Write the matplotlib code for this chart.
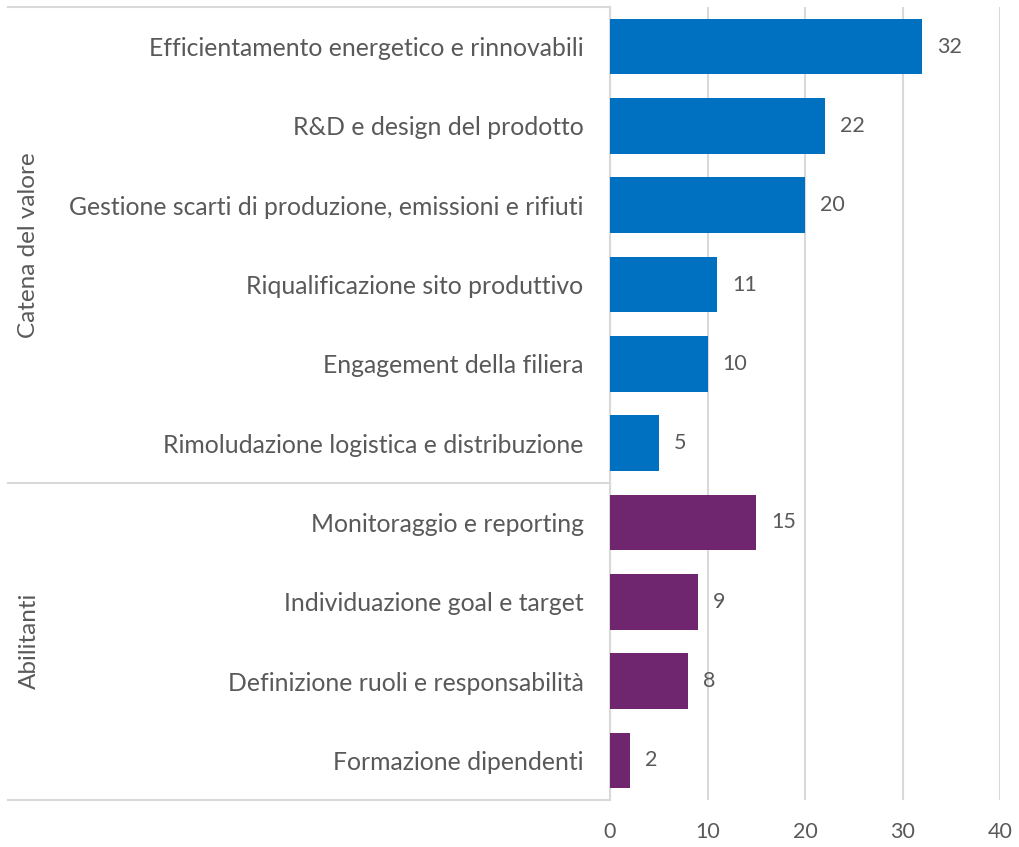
import matplotlib
matplotlib.use("Agg")
import matplotlib.pyplot as plt
from matplotlib.lines import Line2D

plt.rcParams["font.family"] = ["Lato", "DejaVu Sans"]

# Catena del valore / Abilitanti, top to bottom
catena = [
    "Efficientamento energetico e rinnovabili",
    "R&D e design del prodotto",
    "Gestione scarti di produzione, emissioni e rifiuti",
    "Riqualificazione sito produttivo",
    "Engagement della filiera",
    "Rimoludazione logistica e distribuzione",
]
catena_values = [32, 22, 20, 11, 10, 5]

abilitanti = [
    "Monitoraggio e reporting",
    "Individuazione goal e target",
    "Definizione ruoli e responsabilità",
    "Formazione dipendenti",
]
abilitanti_values = [15, 9, 8, 2]

x_ticks = [0, 10, 20, 30, 40]

BLUE = "#0070C0"
PURPLE = "#70256F"
TEXT = "#595959"
GRID = "#D9D9D9"

labels = catena + abilitanti
values = catena_values + abilitanti_values
colors = [BLUE] * len(catena) + [PURPLE] * len(abilitanti)
ypos = list(range(len(labels)))

W, H = 1019, 847
fig = plt.figure(figsize=(W / 100, H / 100), dpi=100)
left, right, top, bottom = 610, 1000, 7, 800
ax = fig.add_axes([left / W, 1 - bottom / H, (right - left) / W, (bottom - top) / H])

ax.barh(ypos, values, height=0.7, color=colors, zorder=3)
ax.set_ylim(len(labels) - 0.5, -0.5)
ax.set_xlim(0, 40)

for y, v in zip(ypos, values):
    ax.annotate(str(v), (v, y), xytext=(11, 0), textcoords="offset points",
                va="center", ha="left", fontsize=15.5, color=TEXT)

ax.set_yticks(ypos)
ax.set_yticklabels(labels, fontsize=17.8, color=TEXT)
ax.set_xticks(x_ticks)
ax.set_xticklabels([str(t) for t in x_ticks], fontsize=15.5, color=TEXT)
ax.tick_params(axis="y", length=0, pad=19)
ax.tick_params(axis="x", length=0, pad=16)

ax.grid(axis="x", color=GRID, linewidth=1.5, zorder=0)
for s in ["top", "right", "bottom"]:
    ax.spines[s].set_visible(False)
ax.spines["left"].set_color(GRID)
ax.spines["left"].set_linewidth(1.5)

# group separators on the left side
x0 = 8 / W
for yy in (top, 483, bottom):
    fig.add_artist(Line2D([x0, left / W], [1 - yy / H, 1 - yy / H],
                          color=GRID, linewidth=1.5, transform=fig.transFigure))

fig.text(29 / W, 1 - 245 / H, "Catena del valore", rotation=90,
         ha="center", va="center", fontsize=17.5, color=TEXT)
fig.text(29 / W, 1 - 641 / H, "Abilitanti", rotation=90,
         ha="center", va="center", fontsize=17.5, color=TEXT)

fig.savefig("out.png", dpi=100)
